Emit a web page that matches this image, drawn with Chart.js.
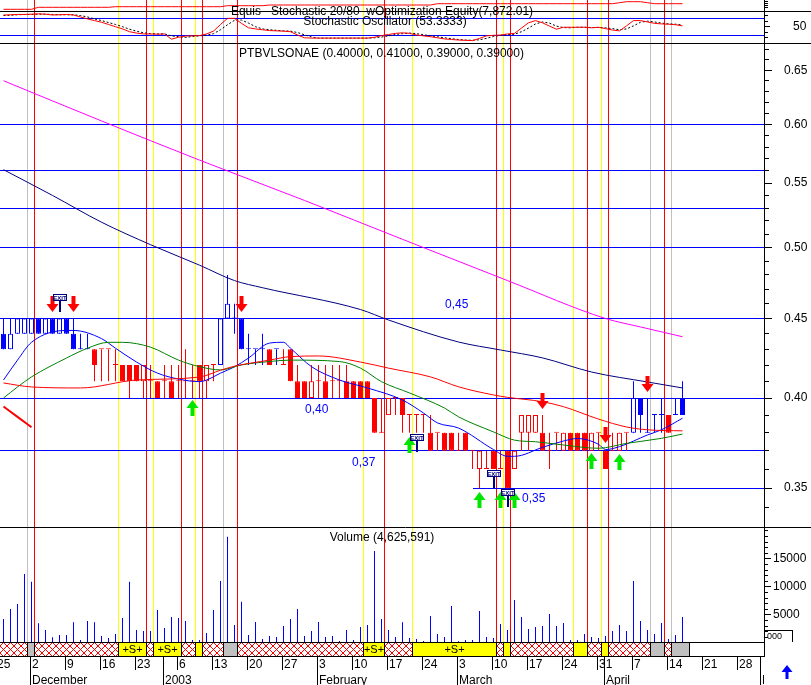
<!DOCTYPE html>
<html><head><meta charset="utf-8">
<script src="https://cdn.jsdelivr.net/npm/chart.js@4.4.1/dist/chart.umd.min.js"></script>
<style>
html,body{margin:0;padding:0;background:#fff;}
body{width:811px;height:685px;position:relative;overflow:hidden;}
canvas{position:absolute;left:0;display:block;}
</style></head><body>
<canvas id="cStoch" width="811" height="44" style="top:0px"></canvas>
<canvas id="cPrice" width="811" height="483" style="top:44px"></canvas>
<canvas id="cVol" width="811" height="158" style="top:527px"></canvas>
<script>
// ---------------- DATA ----------------
const opens = [.44,.43,.44,.44,.44,.45,.44,.45,.44,.45, .44,.43,.43,.43,.43,.43,.42,.42,.42,.42,
 .41,.41,.41,.41,.41,.41,.41,.41,.42,.41, .42,.42,.45,.45,.45,.43,.43,.43,.43,.43,
 .42,.43,.41,.41,.40,.41,.41,.41,.41,.41, .41,.41,.41,.40,.38,.39,.40,.40,.39,.39,
 .39,.38,.38,.38,.38,.37,.38,.37,.36,.36, .37,.36,.37,.36,.38,.38,.38,.38,.37,.38,
 .37,.38,.38,.38,.37,.38,.37,.37,.37,.38, .38,.40,.38,.39,.39,.39,.39,.40];
const highs = [.45,.45,.45,.45,.45,.45,.45,.45,.45,.45, .45,.44,.44,.43,.43,.43,.43,.42,.42,.42,
 .42,.42,.41,.42,.42,.42,.43,.42,.42,.42, .42,.45,.48,.46,.45,.44,.43,.44,.43,.43,
 .43,.43,.42,.41,.42,.42,.42,.42,.42,.42, .41,.41,.41,.40,.40,.40,.40,.40,.39,.39,
 .39,.39,.38,.38,.38,.38,.38,.37,.37,.37, .37,.37,.37,.37,.39,.39,.39,.39,.38,.38,
 .38,.38,.38,.38,.38,.38,.37,.38,.38,.38, .41,.40,.40,.39,.40,.39,.40,.41];
const lows = [.43,.43,.44,.44,.44,.44,.44,.44,.44,.44, .43,.43,.43,.41,.41,.41,.41,.41,.40,.41,
 .40,.40,.40,.40,.40,.40,.40,.40,.40,.40, .41,.42,.45,.44,.43,.42,.42,.42,.42,.42,
 .42,.41,.40,.40,.40,.40,.40,.40,.40,.40, .40,.40,.40,.38,.38,.39,.39,.38,.38,.38,
 .38,.37,.37,.37,.37,.37,.37,.36,.35,.36, .36,.36,.35,.36,.37,.37,.38,.37,.36,.37,
 .37,.37,.37,.37,.37,.37,.36,.37,.37,.37, .38,.38,.38,.38,.38,.38,.39,.39];
const closes = [.43,.44,.45,.45,.45,.44,.45,.44,.45,.44, .43,.43,.43,.42,.43,.43,.42,.41,.41,.41,
 .42,.41,.40,.41,.40,.41,.41,.41,.41,.42, .42,.45,.46,.45,.43,.43,.43,.43,.42,.43,
 .42,.41,.40,.40,.41,.41,.40,.41,.41,.40, .40,.40,.40,.38,.38,.40,.40,.39,.39,.39,
 .39,.37,.38,.37,.37,.37,.37,.37,.37,.36, .36,.36,.35,.37,.39,.39,.39,.37,.37,.38,
 .38,.37,.37,.37,.38,.38,.36,.37,.38,.38, .40,.39,.38,.39,.39,.38,.39,.39];
const candleSignal = ['B','B','B','B','B','B','B','B','B','B','B','B','B',
 'R','R','R','R','R','R','R','R','R','R','R','R','R','R','R','R','R','R',
 'B','B','B','B','B','B','B','R','B',
 'R','R','R','R','R','R','R','R','R','R','R','R','R','R','R','R','R','R','R','R','R','R','R','R','R',
 'R','R','R','R','R','R','R','R','R','R','R','R','R','R','R','R','R','R','R','R','R','R','R','R','R',
 'B','B','B','B','B','R','B','B'];
const volume = [4290,6070,6960,12320,10950,3510,2320,1010,1430,1430, 3690,540,3930,3690,1250,890,1610,4470,10950,2320,
 2140,2140,5890,2680,4640,4470,3930,540,540,1790, 5890,11070,18990,3210,7380,1430,3750,710,1250,1070,
 3040,4290,6070,1250,2140,3750,1070,1250,360,2320, 540,2860,3210,16430,4290,2320,1070,3690,890,710,
 360,4820,1610,1070,6610,300,540,540,5720,1070, 890,3390,2320,7680,4640,2500,2860,3040,5180,3040,
 3570,540,540,1610,1070,890,1250,2140,3210,2140, 11070,3930,2320,1610,3570,710,1430,4640];
const stochK = [92,93,94,94,95,96,95,92,93,94, 92,85,78,72,66,58,50,42,32,27, 24,24,23,24,5,12,16,17,18,24,
 34,58,80,80,62,46,42,39,36,35, 34,32,20,10,9,9,9,9,9,9, 9,9,9,12,18,22,26,28,26,20,
 17,14,10,6,4,2,1,0,8,17, 19,20,24,26,45,64,72,64,52,41, 48,48,48,48,46,48,43,38,35,53, 72,72,67,62,60,59,57,53];
const stochD = [90,91,93,94,94,95,95,94,93,93, 93,90,85,78,72,65,58,50,41,34, 28,25,24,24,17,14,11,15,17,20,
 25,39,57,73,74,63,50,42,39,37, 35,34,29,21,13,9,9,9,9,9, 9,9,9,10,13,17,22,25,27,25,
 21,17,14,10,7,4,2,1,3,8, 15,19,21,23,32,45,60,67,63,52, 47,46,48,48,47,47,46,43,39,42, 53,66,70,67,63,60,59,56];
const equity = [7032,7032,7032,7032,7032, 7332,7332,7332,7332,7332,7332,7332,7332,7332,7332,7332,
 7422,7422,7422,7422,7422,7422,7422,7422,7422,7422,7422,7422,7422,7422,7422,7422,
 7572,7572,7572,7572,7572,7572,
 7677,7677,7677,7677,7677,7677,7677,7677,7677,7677,7677,7677,7677,7677,7677,7677,7677,7677,7677,7677,7677,7677,7677,7677,
 7872,7872,7872,7872,7872,7872,7872,7872,7872,7872,7872,7872,7872,7872,7872,7872,7872,7872,7872,7872,7872,7872,7872,7872,7872,7872,
 8022,8172,8172,8172,8022,7872,7872,7872,7872,7872];
// moving averages read at selected bars
const maMagentaIdx = [0,14,28,43,57,72,86,91,97];
const maMagentaVal = [.640,.603,.569,.536,.506,.476,.450,.4444,.438];
const maNavyIdx = [0,7,14,21,28,33,37,51,55,65,71,77,84,92,97];
const maNavyVal = [.561,.540,.519,.502,.487,.476,.471,.456,.449,.4346,.4295,.4245,.4157,.4096,.406];
const maRedIdx = [0,4,11,19,28,31,33,38,41,45,51,55,61,65,70,72,77,80,85,89,92,97];
const maRedVal = [.409,.4066,.406,.4108,.4126,.4168,.4193,.4231,.4253,.4257,.4219,.4181,.4127,.4067,.4018,.4004,.3978,.3949,.3877,.3832,.3816,.381];
const maGreenIdx = [0,2,4,9,12,15,17,21,25,28,31,34,38,41,48,51,54,58,63,65,70,73,76,80,85,89,94,97];
const maGreenVal = [.400,.4066,.4127,.4244,.4306,.4344,.4344,.4313,.4231,.4190,.4170,.4201,.4222,.4231,.4222,.4181,.4098,.4030,.3941,.3890,.3804,.3758,.3749,.3731,.3713,.3740,.3768,.3792];
const maBlueIdx = [0,2,4,9,10,14,16,19,22,25,28,29,31,33,35,38,40,41,44,48,52,57,60,62,65,70,72,73,77,80,82,85,86,88,92,94,97];
const maBlueVal = [.4108,.4231,.4344,.4421,.4421,.4368,.4306,.4219,.4150,.4114,.4098,.4108,.4150,.4189,.4244,.4339,.4344,.4306,.4190,.4108,.4060,.3988,.3912,.3855,.3826,.3706,.3669,.3669,.3718,.3753,.3767,.3735,.3706,.3722,.3787,.3816,.3882];
const maFragIdx = [0,2,4];
const maFragVal = [.395,.389,.383];
// signals (bar positions)
const redSignals = [4.5,20.5,25.5,28.5,33.5,54.5,70.5,72.5,83.5,86.5,94.5];
const yellowSignals = [16.5,21.5,27.5,51.5,58.5,71.5,81.5,85.5];
const graySignals = [3.5,31.5,92.5,95.5];
const stripEdges = [-0.5,3.5,4.5,16.5,20.5,21.5,25.5,27.5,28.5,31.5,33.5,51.5,54.5,58.5,70.5,71.5,72.5,81.5,83.5,85.5,86.5,92.5,94.5,95.5,98.2];
const stripStates = ['x','g','x','y','x','y','x','y','x','g','x','y','x','y','x','y','x','y','x','y','x','g','x','g'];
const sellIdx = [7,10,34,77,86,92];
const sellPrice = [.4543,.4543,.4543,.3935,.374,.4037];
const buyIdx = [27,58,68,71,73,84,88];
const buyPrice = [.3988,.3775,.348,.348,.348,.3687,.3682];
const exitIdx = [8,59,70,72];
const exitPrice = [.4543,.3693,.3502,.3403];
const priceLevels = [0.60,0.56,0.53,0.50,0.45,0.40,0.37];
const priceTicks = [0.35,0.40,0.45,0.50,0.55,0.60,0.65];
const volTicks = [5000,10000,15000];
const stochLevels = [20,80];
const dayIdx = [-1,4,9,14,19,25,30,35,40,45,50,55,60,65,70,75,80,85,90,95,100,105];
const dayLabels = ['25','2','9','16','23','6','13','20','27','3','10','17','24','3','10','17','24','31','7','14','21','28'];
const monthIdx = [4,23,45,65,86,108.27];
const monthLabels = ['December','2003','February','March','April','M'];

// ---------------- SETUP ----------------
const FONT = "'Liberation Sans', Arial, Helvetica, sans-serif";
Chart.defaults.font.family = FONT;
Chart.defaults.font.size = 12;
Chart.defaults.color = '#000';
Chart.defaults.animation = false;
Chart.defaults.events = [];
Chart.defaults.plugins.legend.display = false;
Chart.defaults.plugins.tooltip.enabled = false;
const AXIS_X = 764;
const X_MIN = -0.5, X_MAX = (AXIS_X - 3.5) / 7;
const BLUE = '#0000FF', RED = '#FF0000';
const trendColor = i => candleSignal[i] === 'B' ? BLUE : RED;
const pts = (idx, val) => idx.map((x, k) => ({x, y: val[k]}));
const xCfg = () => ({type:'linear', min:X_MIN, max:X_MAX, display:false, bounds:'data', offset:false, grid:{offset:false}});
function fitRight(s){ s.width = 811 - AXIS_X; s.paddingTop = 0; s.paddingBottom = 0; s.paddingLeft = 0; s.paddingRight = 0; }
const baseOpts = {responsive:false, devicePixelRatio:1, animation:false, layout:{padding:0, autoPadding:false}};

function hline(ctx, x0, x1, y){ ctx.beginPath(); ctx.moveTo(x0, y); ctx.lineTo(x1, y); ctx.stroke(); }
function vline(ctx, x, y0, y1){ ctx.beginPath(); ctx.moveTo(x, y0); ctx.lineTo(x, y1); ctx.stroke(); }
const crisp = v => Math.floor(v) + 0.5;

const signalLines = {
  id:'signalLines',
  beforeDatasetsDraw(chart){
    const {ctx, chartArea:a, scales:{x}} = chart;
    ctx.save(); ctx.lineWidth = 1;
    const draw = (arr, col) => { ctx.strokeStyle = col; arr.forEach(v => vline(ctx, Math.floor(x.getPixelForValue(v)) - 0.5, a.top, a.bottom)); };
    draw(graySignals, '#C0C0C0'); draw(yellowSignals, '#FFFF00'); draw(redSignals, RED);
    ctx.restore();
  }
};
function axisMarks(ctx, scale, list){
  ctx.save(); ctx.strokeStyle = '#000'; ctx.lineWidth = 1;
  list.forEach(([v, len]) => { const y = crisp(scale.getPixelForValue(v)); hline(ctx, AXIS_X, AXIS_X + len, y); });
  ctx.restore();
}
function text(ctx, s, x, y, opt){
  ctx.save(); ctx.font = (opt && opt.font) || ('12px ' + FONT); ctx.fillStyle = (opt && opt.color) || '#000';
  ctx.textAlign = (opt && opt.align) || 'center'; ctx.textBaseline = 'alphabetic'; ctx.fillText(s, x, y); ctx.restore();
}

// ---------------- STOCHASTIC PANEL ----------------
new Chart(document.getElementById('cStoch'), {
  type:'line',
  data:{datasets:[
    {data: stochK.map((v,i)=>({x:i,y:v})), borderColor:RED, borderWidth:1, pointRadius:0, tension:0, yAxisID:'y'},
    {data: stochD.map((v,i)=>({x:i,y:v})), borderColor:'#000', borderDash:[2,2], borderWidth:1, pointRadius:0, tension:0, yAxisID:'y'},
    {data: equity.map((v,i)=>({x:i,y:v})), borderColor:RED, borderWidth:1, pointRadius:0, tension:0, yAxisID:'yEq'}
  ]},
  options:Object.assign({}, baseOpts, {
    layout:{padding:{bottom:1}, autoPadding:false},
    scales:{
      x: xCfg(),
      y: {type:'linear', position:'right', min:-8.63, max:146, bounds:'data',
          grid:{display:false, drawTicks:false}, border:{display:false},
          ticks:{autoSkip:false, crossAlign:'near', padding:29, color:'#000', font:{size:12}, callback:v=>String(v)},
          afterBuildTicks(s){ s.ticks = [{value:50}]; }, afterFit: fitRight},
      yEq: {type:'linear', display:false, position:'right', min:1977, max:8427, bounds:'data'}
    }
  }),
  plugins:[signalLines, {
    id:'stochDeco',
    beforeDatasetsDraw(chart){
      const {ctx, scales:{y}} = chart;
      ctx.save(); ctx.strokeStyle = BLUE; ctx.lineWidth = 1;
      stochLevels.forEach(v => hline(ctx, 0, AXIS_X, crisp(y.getPixelForValue(v))));
      ctx.restore();
    },
    afterDraw(chart){
      const {ctx, scales:{y, yEq}} = chart;
      ctx.save(); ctx.strokeStyle = '#000'; ctx.lineWidth = 1;
      hline(ctx, 0, 811, 11.5); hline(ctx, 0, 811, 43.5);
      vline(ctx, AXIS_X + 0.5, 0, 44);
      ctx.restore();
      axisMarks(ctx, y, [[90,4],[70,4],[50,6],[30,4],[10,4]]);
      axisMarks(ctx, yEq, [[8200,4],[7900,4],[7600,4],[7300,4]]);
      text(ctx, 'Equis   Stochastic 20/80  wOptimization Equity(7,872.01)', 382, 15);
      text(ctx, 'Stochastic Oscillator (53.3333)', 385, 25);
    }
  }]
});

// ---------------- PRICE PANEL ----------------
function upArrow(ctx, x, yTip, col){
  ctx.fillStyle = col; ctx.beginPath();
  ctx.moveTo(x, yTip); ctx.lineTo(x+6, yTip+8); ctx.lineTo(x+2, yTip+8); ctx.lineTo(x+2, yTip+16);
  ctx.lineTo(x-2, yTip+16); ctx.lineTo(x-2, yTip+8); ctx.lineTo(x-6, yTip+8); ctx.closePath(); ctx.fill();
}
function downArrow(ctx, x, yTip, col){
  ctx.fillStyle = col; ctx.beginPath();
  ctx.moveTo(x, yTip); ctx.lineTo(x+6, yTip-8); ctx.lineTo(x+2, yTip-8); ctx.lineTo(x+2, yTip-16);
  ctx.lineTo(x-2, yTip-16); ctx.lineTo(x-2, yTip-8); ctx.lineTo(x-6, yTip-8); ctx.closePath(); ctx.fill();
}
function exitFlag(ctx, x, yTip){
  const cx = Math.round(x), ty = Math.round(yTip);
  ctx.fillStyle = '#000080'; ctx.fillRect(cx-1, ty-11, 2, 11);
  const bx = cx-7, by = ty-18;
  ctx.fillStyle = '#fff'; ctx.fillRect(bx, by, 14, 7);
  ctx.strokeStyle = '#000080'; ctx.lineWidth = 1; ctx.strokeRect(bx+0.5, by+0.5, 13, 6);
  ctx.fillStyle = '#000080'; ctx.font = 'bold 6px ' + FONT; ctx.textAlign = 'center'; ctx.textBaseline = 'alphabetic';
  ctx.fillText('EXIT', bx+7, by+6);
}
const lineDs = (idx, val, col, w) => ({type:'line', data:pts(idx, val), borderColor:col, borderWidth:w||1, pointRadius:0, tension:0.35, cubicInterpolationMode:'monotone', order:1});
new Chart(document.getElementById('cPrice'), {
  type:'bar',
  data:{datasets:[
    {data: highs.map((h,i)=>({x:i, y:[lows[i], h]})), barThickness:1, grouped:false, order:3,
     backgroundColor: c => trendColor(c.dataIndex), borderWidth:0, inflateAmount:0, minBarLength:1},
    {data: opens.map((o,i)=>({x:i, y:[o, closes[i]]})), barThickness:5, grouped:false, order:2,
     backgroundColor: c => (closes[c.dataIndex] < opens[c.dataIndex] ? trendColor(c.dataIndex) : '#FFFFFF'),
     borderColor: c => trendColor(c.dataIndex), borderWidth:1, borderSkipped:false, inflateAmount:0, minBarLength:1},
    lineDs(maMagentaIdx, maMagentaVal, '#FF00FF'),
    lineDs(maNavyIdx, maNavyVal, '#000080'),
    lineDs(maRedIdx, maRedVal, RED),
    lineDs(maGreenIdx, maGreenVal, '#008000'),
    lineDs(maBlueIdx, maBlueVal, BLUE),
    lineDs(maFragIdx, maFragVal, RED, 2)
  ]},
  options:Object.assign({}, baseOpts, {
    scales:{
      x: xCfg(),
      y: {type:'logarithmic', position:'right', min:0.33042, max:0.6758, bounds:'data',
          grid:{display:false, drawTicks:false}, border:{display:false},
          ticks:{autoSkip:false, crossAlign:'near', padding:20, color:'#000', font:{size:12}, callback:v=>Number(v).toFixed(2)},
          afterBuildTicks(s){ s.ticks = priceTicks.map(v=>({value:v})); }, afterFit: fitRight}
    }
  }),
  plugins:[signalLines, {
    id:'priceDeco',
    beforeDatasetsDraw(chart){
      const {ctx, scales:{x, y}} = chart;
      ctx.save(); ctx.strokeStyle = BLUE; ctx.lineWidth = 1;
      priceLevels.forEach(v => hline(ctx, 0, AXIS_X, crisp(y.getPixelForValue(v))));
      hline(ctx, Math.round(x.getPixelForValue(67.1)), AXIS_X, crisp(y.getPixelForValue(0.35)));
      ctx.restore();
    },
    afterDatasetsDraw(chart){
      const {ctx, scales:{x, y}} = chart;
      ctx.save();
      sellIdx.forEach((i,k) => downArrow(ctx, x.getPixelForValue(i), Math.round(y.getPixelForValue(sellPrice[k])), RED));
      buyIdx.forEach((i,k) => upArrow(ctx, x.getPixelForValue(i), Math.round(y.getPixelForValue(buyPrice[k])), '#00E600'));
      exitIdx.forEach((i,k) => exitFlag(ctx, x.getPixelForValue(i), y.getPixelForValue(exitPrice[k])));
      ctx.restore();
      const lab = [['0,45',63.07,.457],['0,40',43.07,.3915],['0,37',49.8,.3617],['0,35',74.07,.3431]];
      lab.forEach(([s,i,p]) => text(ctx, s, x.getPixelForValue(i), Math.round(y.getPixelForValue(p)), {align:'left', color:BLUE}));
    },
    afterDraw(chart){
      const {ctx, scales:{y}} = chart;
      ctx.save(); ctx.strokeStyle = '#000'; ctx.lineWidth = 1;
      vline(ctx, AXIS_X + 0.5, 0, 483);
      ctx.restore();
      const marks = [];
      for (let k = 34; k <= 67; k++) marks.push([k/100, k % 5 === 0 ? 8 : 5]);
      axisMarks(ctx, y, marks);
      text(ctx, 'PTBVLSONAE (0.40000, 0.41000, 0.39000, 0.39000)', 381.5, 13);
    }
  }]
});

// ---------------- VOLUME PANEL + STRIP + DATE AXIS ----------------
function makeHatch(){
  const c = document.createElement('canvas'); c.width = 7; c.height = 7; const g = c.getContext('2d');
  g.fillStyle = '#fff'; g.fillRect(0,0,7,7); g.fillStyle = RED;
  for (let k = 0; k < 7; k++){ g.fillRect(k,k,1,1); g.fillRect(6-k,k,1,1); }
  return c;
}
new Chart(document.getElementById('cVol'), {
  type:'bar',
  data:{datasets:[
    {data: volume.map((v,i)=>({x:i, y:v})), barThickness:1, backgroundColor:BLUE, borderWidth:0, inflateAmount:0, grouped:false}
  ]},
  options:Object.assign({}, baseOpts, {
    layout:{padding:{bottom:42}, autoPadding:false},
    scales:{
      x: xCfg(),
      y: {type:'linear', position:'right', min:0, max:20714, bounds:'data',
          grid:{display:false, drawTicks:false}, border:{display:false},
          ticks:{autoSkip:false, crossAlign:'near', padding:9, color:'#000', font:{size:12}, callback:v=>String(v)},
          afterBuildTicks(s){ s.ticks = volTicks.map(v=>({value:v})); }, afterFit: fitRight}
    }
  }),
  plugins:[signalLines, {
    id:'volDeco',
    afterDraw(chart){
      const {ctx, scales:{x, y}} = chart;
      const T = 115, B = 129;
      ctx.save();
      // strip
      const hatch = ctx.createPattern(makeHatch(), 'repeat');
      const edgePx = stripEdges.map(v => Math.floor(x.getPixelForValue(v)) - 1);
      stripStates.forEach((st, k) => {
        const x0 = Math.max(0, edgePx[k]), x1 = edgePx[k+1];
        ctx.fillStyle = st === 'x' ? hatch : (st === 'y' ? '#FFFF00' : '#C0C0C0');
        ctx.fillRect(x0, T, x1 - x0, B - T);
        if (st === 'y' && (stripEdges[k+1] - stripEdges[k]) >= 2.5) {
          text(ctx, '+S+', (x0 + x1) / 2 + 0.5, 126, {font:'11px ' + FONT});
        }
      });
      ctx.strokeStyle = '#000'; ctx.lineWidth = 1;
      edgePx.forEach(p => { if (p > 0) vline(ctx, p + 0.5, T, B); });
      hline(ctx, 0, AXIS_X, T + 0.5); hline(ctx, 0, AXIS_X, B + 0.5);
      // panel separators and axis
      hline(ctx, 0, 811, 0.5);
      vline(ctx, AXIS_X + 0.5, 0, B + 1);
      // date axis
      ctx.save(); ctx.beginPath(); ctx.rect(0, B, AXIS_X, 40); ctx.clip();
      dayIdx.forEach((d, k) => {
        const p = crisp(x.getPixelForValue(d - 0.1));
        vline(ctx, p, B, 143);
        text(ctx, dayLabels[k], p + 1.5, 141, {align:'left'});
      });
      monthIdx.forEach((d, k) => {
        const p = crisp(x.getPixelForValue(d - 0.1));
        vline(ctx, p, B, 158);
        text(ctx, monthLabels[k], p + 1.5, 157, {align:'left'});
      });
      ctx.restore();
      // small box at right
      hline(ctx, 765, 793, 103.5); vline(ctx, 792.5, 103, 115);
      text(ctx, '000', 767, 112, {align:'left', font:'9px ' + FONT});
      // blue arrow
      ctx.fillStyle = BLUE; ctx.beginPath();
      ctx.moveTo(787, 138); ctx.lineTo(792.5, 145); ctx.lineTo(788.5, 145); ctx.lineTo(788.5, 152);
      ctx.lineTo(785.5, 152); ctx.lineTo(785.5, 145); ctx.lineTo(781.5, 145); ctx.closePath(); ctx.fill();
      ctx.restore();
      const marks = [];
      for (let k = 1; k <= 20; k++) marks.push([k*1000, (k % 5 === 0 && k < 20) ? 7 : 4]);
      axisMarks(ctx, y, marks);
      text(ctx, 'Volume (4,625,591)', 382, 14);
    }
  }]
});
</script>
</body></html>
